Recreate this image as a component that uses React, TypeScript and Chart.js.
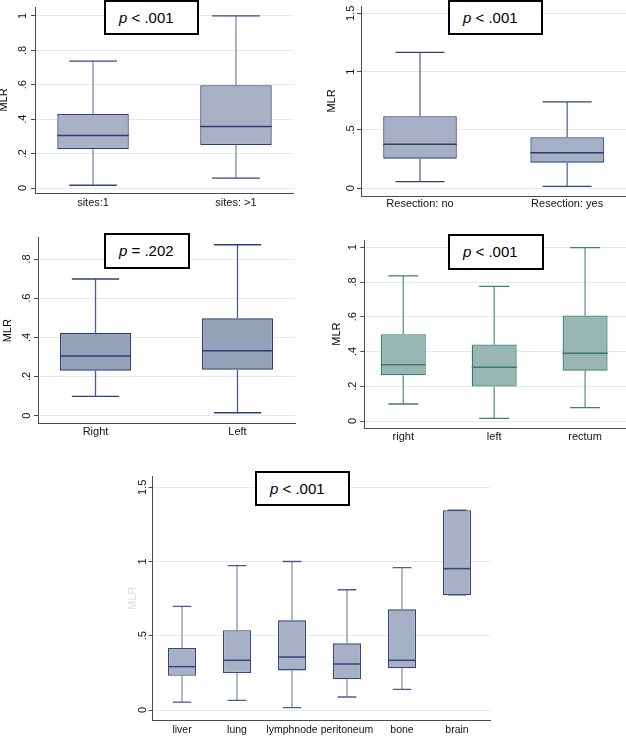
import React, { useEffect, useRef } from "react";
import { Chart, registerables } from "chart.js";

Chart.register(...registerables);

// ---------- Data ----------
// Panel A: number of metastatic sites
const sitesCategories = ["sites:1", "sites: >1"];
const sitesLow = [0.016, 0.058];
const sitesQ1 = [0.227, 0.25];
const sitesMedian = [0.305, 0.357];
const sitesQ3 = [0.43, 0.597];
const sitesHigh = [0.737, 1.0];
const sitesTicks = [0, 0.2, 0.4, 0.6, 0.8, 1];
const sitesP = "< .001";

// Panel B: resection of primary
const resectionCategories = ["Resection: no", "Resection: yes"];
const resectionLow = [0.057, 0.017];
const resectionQ1 = [0.254, 0.22];
const resectionMedian = [0.377, 0.305];
const resectionQ3 = [0.617, 0.437];
const resectionHigh = [1.165, 0.74];
const resectionTicks = [0, 0.5, 1, 1.5];
const resectionP = "< .001";

// Panel C: sidedness
const sideCategories = ["Right", "Left"];
const sideLow = [0.099, 0.015];
const sideQ1 = [0.23, 0.235];
const sideMedian = [0.305, 0.332];
const sideQ3 = [0.424, 0.497];
const sideHigh = [0.698, 0.873];
const sideTicks = [0, 0.2, 0.4, 0.6, 0.8];
const sideP = "= .202";

// Panel D: primary location
const locationCategories = ["right", "left", "rectum"];
const locationLow = [0.098, 0.015, 0.077];
const locationQ1 = [0.263, 0.198, 0.29];
const locationMedian = [0.324, 0.309, 0.39];
const locationQ3 = [0.499, 0.441, 0.608];
const locationHigh = [0.835, 0.775, 0.998];
const locationTicks = [0, 0.2, 0.4, 0.6, 0.8, 1];
const locationP = "< .001";

// Panel E: metastatic organ
const organCategories = ["liver", "lung", "lymphnode", "peritoneum", "bone", "brain"];
const organLow = [0.054, 0.065, 0.016, 0.088, 0.139, 0.775];
const organQ1 = [0.231, 0.249, 0.267, 0.207, 0.281, 0.775];
const organMedian = [0.292, 0.335, 0.357, 0.31, 0.335, 0.952];
const organQ3 = [0.418, 0.537, 0.604, 0.449, 0.678, 1.345];
const organHigh = [0.698, 0.972, 1.0, 0.81, 0.959, 1.345];
const organTicks = [0, 0.5, 1, 1.5];
const organP = "< .001";

// ---------- Styling / layout ----------
const FONT = "'Liberation Sans', Arial, Helvetica, sans-serif";
const AXIS = "#4a4a4a";
const GRID = "#e3ebee";

type PanelCfg = {
  categories: string[];
  low: number[];
  q1: number[];
  med: number[];
  q3: number[];
  high: number[];
  ticks: number[];
  canvas: [number, number, number, number]; // left, top, width, height
  plot: [number, number, number, number]; // left, top, right, bottom
  yMin: number;
  yMax: number;
  xMin: number;
  xMax: number;
  boxFrac: number;
  yLabelPad: number;
  xLabelPad: number;
  fontSize: number;
  fill: string;
  border: string;
  whisker: string;
  cap: string;
  titleColor: string;
  p: string;
  pBox: [number, number, number, number]; // left, top, width, height
};

const navy = "#2b3d76";

const panels: PanelCfg[] = [
  {
    categories: sitesCategories, low: sitesLow, q1: sitesQ1, med: sitesMedian, q3: sitesQ3, high: sitesHigh, ticks: sitesTicks,
    canvas: [-4, 0, 302, 215], plot: [35, 7, 293, 193],
    yMin: -0.029, yMax: 1.052, xMin: 0.594, xMax: 2.399, boxFrac: 0.5,
    yLabelPad: 3, xLabelPad: 3.4, fontSize: 11,
    fill: "#a9b1c6", border: navy, whisker: "#7c89ad", cap: "#33457e", titleColor: "#000",
    p: sitesP, pBox: [104, 0, 95, 35],
  },
  {
    categories: resectionCategories, low: resectionLow, q1: resectionQ1, med: resectionMedian, q3: resectionQ3, high: resectionHigh, ticks: resectionTicks,
    canvas: [324, 0, 302, 215], plot: [361, 6, 626, 196],
    yMin: -0.066, yMax: 1.5625, xMin: 0.599, xMax: 2.4, boxFrac: 0.5,
    yLabelPad: -1.6, xLabelPad: 1.4, fontSize: 11,
    fill: "#a7afc4", border: navy, whisker: "#5a6995", cap: "#2f4179", titleColor: "#000",
    p: resectionP, pBox: [448, 0, 95, 35],
  },
  {
    categories: sideCategories, low: sideLow, q1: sideQ1, med: sideMedian, q3: sideQ3, high: sideHigh, ticks: sideTicks,
    canvas: [0, 225, 300, 230], plot: [38, 237.7, 295, 423.7],
    yMin: -0.041, yMax: 0.909, xMin: 0.595, xMax: 2.405, boxFrac: 0.5,
    yLabelPad: 2.7, xLabelPad: 1.4, fontSize: 11,
    fill: "#96a0b9", border: navy, whisker: "#4d5c8a", cap: "#2f4179", titleColor: "#000",
    p: sideP, pBox: [104, 233, 86, 36],
  },
  {
    categories: locationCategories, low: locationLow, q1: locationQ1, med: locationMedian, q3: locationQ3, high: locationHigh, ticks: locationTicks,
    canvas: [328.7, 225, 297.3, 230], plot: [364, 240, 626, 428.3],
    yMin: -0.042, yMax: 1.042, xMin: 0.571, xMax: 3.45, boxFrac: 0.495,
    yLabelPad: 2.7, xLabelPad: 1.8, fontSize: 11,
    fill: "#97b7b2", border: "#3a7b70", whisker: "#5b978e", cap: "#3f8076", titleColor: "#000",
    p: locationP, pBox: [448, 234, 96, 36],
  },
  {
    categories: organCategories, low: organLow, q1: organQ1, med: organMedian, q3: organQ3, high: organHigh, ticks: organTicks,
    canvas: [125, 464, 370, 272], plot: [152.7, 476.7, 490, 720],
    yMin: -0.067, yMax: 1.571, xMin: 0.467, xMax: 6.6, boxFrac: 0.51,
    yLabelPad: -2.25, xLabelPad: 3.7, fontSize: 10.5,
    fill: "#a8b0c6", border: "#33467e", whisker: "#8592b4", cap: "#4a5b90", titleColor: "#dadee4",
    p: organP, pBox: [255, 471, 95, 35],
  },
];

function fmtTick(v: number): string {
  if (v === 0) return "0";
  const s = String(Math.round(v * 1000) / 1000);
  return s.startsWith("0.") ? s.slice(1) : s;
}

function BoxPanel({ cfg }: { cfg: PanelCfg }) {
  const ref = useRef<HTMLCanvasElement | null>(null);
  const [cl, ct, cw, ch] = cfg.canvas;
  useEffect(() => {
    if (!ref.current) return;
    const [pl, pt, pr, pb] = cfg.plot;

    const boxPlugin = {
      id: "boxExtras",
      beforeDatasetsDraw(chart: any) {
        const meta = chart.getDatasetMeta(0);
        const ys = chart.scales.y;
        const ctx = chart.ctx as CanvasRenderingContext2D;
        ctx.save();
        ctx.lineWidth = 1.3;
        meta.data.forEach((bar: any, i: number) => {
          const { x, width } = bar.getProps(["x", "width"], true);
          const yl = ys.getPixelForValue(cfg.low[i]);
          const y1 = ys.getPixelForValue(cfg.q1[i]);
          const y3 = ys.getPixelForValue(cfg.q3[i]);
          const yh = ys.getPixelForValue(cfg.high[i]);
          ctx.strokeStyle = cfg.whisker;
          ctx.beginPath();
          ctx.moveTo(x, yl);
          ctx.lineTo(x, y1);
          ctx.moveTo(x, y3);
          ctx.lineTo(x, yh);
          ctx.stroke();
          const half = (width * 2) / 3 / 2;
          ctx.strokeStyle = cfg.cap;
          ctx.beginPath();
          ctx.moveTo(x - half, yl);
          ctx.lineTo(x + half, yl);
          ctx.moveTo(x - half, yh);
          ctx.lineTo(x + half, yh);
          ctx.stroke();
        });
        ctx.restore();
      },
      afterDatasetsDraw(chart: any) {
        const meta = chart.getDatasetMeta(0);
        const ys = chart.scales.y;
        const ctx = chart.ctx as CanvasRenderingContext2D;
        ctx.save();
        ctx.lineWidth = 1.5;
        ctx.strokeStyle = cfg.border;
        meta.data.forEach((bar: any, i: number) => {
          const { x, width } = bar.getProps(["x", "width"], true);
          const ym = ys.getPixelForValue(cfg.med[i]);
          ctx.beginPath();
          ctx.moveTo(x - width / 2, ym);
          ctx.lineTo(x + width / 2, ym);
          ctx.stroke();
        });
        ctx.restore();
      },
    };

    const chart = new Chart(ref.current, {
      type: "bar",
      data: {
        datasets: [
          {
            data: cfg.categories.map((_, i) => ({ x: i + 1, y: [cfg.q1[i], cfg.q3[i]] })) as any,
            backgroundColor: cfg.fill,
            borderColor: cfg.border,
            borderWidth: 1.3,
            borderSkipped: false,
            barPercentage: cfg.boxFrac,
            categoryPercentage: 1,
          } as any,
        ],
      },
      options: {
        responsive: false,
        maintainAspectRatio: false,
        animation: false,
        devicePixelRatio: 1,
        events: [],
        layout: { padding: { left: 0, top: pt - ct, right: cl + cw - pr, bottom: 0 } },
        plugins: { legend: { display: false }, tooltip: { enabled: false } },
        scales: {
          x: {
            type: "linear",
            offset: false,
            min: cfg.xMin,
            max: cfg.xMax,
            afterBuildTicks: (s: any) => {
              s.ticks = cfg.categories.map((_, i) => ({ value: i + 1 }));
            },
            afterFit: (s: any) => {
              s.height = ct + ch - pb;
              s.paddingLeft = 0;
              s.paddingRight = 0;
            },
            grid: { display: false, drawTicks: false, offset: false },
            border: { display: true, color: AXIS, width: 1 },
            ticks: {
              autoSkip: false,
              minRotation: 0,
              maxRotation: 0,
              padding: cfg.xLabelPad,
              color: "#111",
              font: { family: FONT, size: cfg.fontSize },
              callback: (v: any) => cfg.categories[Math.round(Number(v)) - 1] ?? "",
            },
          },
          y: {
            type: "linear",
            min: cfg.yMin,
            max: cfg.yMax,
            afterBuildTicks: (s: any) => {
              s.ticks = cfg.ticks.map((v) => ({ value: v }));
            },
            afterFit: (s: any) => {
              s.width = pl - cl;
              s.paddingTop = 0;
              s.paddingBottom = 0;
            },
            grid: { color: GRID, lineWidth: 1, tickColor: AXIS, tickLength: 4, drawTicks: true },
            border: { display: true, color: AXIS, width: 1 },
            ticks: {
              minRotation: 90,
              maxRotation: 90,
              crossAlign: "center",
              padding: cfg.yLabelPad,
              color: "#111",
              font: { family: FONT, size: 11 },
              callback: (v: any) => fmtTick(Number(v)),
            },
            title: {
              display: true,
              text: "MLR",
              color: cfg.titleColor,
              font: { family: FONT, size: 11, lineHeight: 1 },
              padding: { top: 2.5, bottom: 0 },
            },
          },
        },
      } as any,
      plugins: [boxPlugin],
    });
    return () => chart.destroy();
  }, [cfg]);

  const [bx, by, bw, bh] = cfg.pBox;
  return (
    <>
      <canvas
        ref={ref}
        width={cw}
        height={ch}
        style={{ position: "absolute", left: cl, top: ct, width: cw, height: ch }}
      />
      <div
        style={{
          position: "absolute",
          left: bx,
          top: by,
          width: bw,
          height: bh,
          boxSizing: "border-box",
          border: "2px solid #000",
          background: "#fff",
          fontFamily: FONT,
          fontSize: 15,
          lineHeight: `${bh - 4}px`,
          paddingLeft: 13,
          color: "#000",
          whiteSpace: "nowrap",
        }}
      >
        <i>p</i> {cfg.p}
      </div>
    </>
  );
}

export default function App() {
  return (
    <div
      style={{
        position: "absolute",
        left: 0,
        top: 0,
        width: 626,
        height: 736,
        background: "#fff",
        overflow: "hidden",
      }}
    >
      {panels.map((p, i) => (
        <BoxPanel key={i} cfg={p} />
      ))}
    </div>
  );
}
